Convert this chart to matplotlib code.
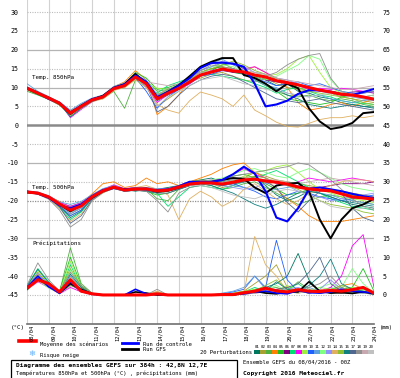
import numpy as np
import matplotlib
matplotlib.use('Agg')
import matplotlib.pyplot as plt
from matplotlib.patches import Rectangle

# ---------------- data ----------------
days = [i * 0.5 for i in range(33)]          # 12-hourly steps over 16 days
date_labels = ['08/04', '09/04', '10/04', '11/04', '12/04', '13/04', '14/04', '15/04',
               '16/04', '17/04', '18/04', '19/04', '20/04', '21/04', '22/04', '23/04', '24/04']
left_ticks = [30, 25, 20, 15, 10, 5, 0, -5, -10, -15, -20, -25, -30, -35, -40, -45]
right_tick_labels = ['75', '70', '65', '60', '55', '50', '45', '40', '35', '30',
                     '25', '20', '15', '10', '5', '0']
PRECIP_BASE = -45   # 0 mm sits on the -45 line

mean850 = [9.8, 8.5, 7.2, 5.8, 3.2, 5.0, 6.7, 7.5, 9.7, 10.5, 12.8,
           11.0, 7.0, 8.5, 9.8, 11.5, 13.3, 14.1, 14.9, 14.4, 14.1, 13.3,
           12.8, 11.8, 11.3, 10.7, 10.0, 9.3, 8.8, 8.2, 8.0, 7.5, 6.9]
ctl850 = [9.9, 8.6, 7.0, 5.9, 3.4, 5.2, 6.9, 7.6, 9.9, 10.8, 13.2,
          11.5, 7.5, 8.8, 10.5, 12.5, 15.2, 16.5, 16.6, 16.3, 15.5, 11.0,
          5.0, 5.5, 6.5, 8.3, 9.3, 9.2, 8.9, 8.2, 8.0, 8.8, 9.6]
gfs850 = [9.7, 8.4, 7.3, 5.7, 3.0, 5.1, 6.8, 7.8, 9.9, 10.9, 13.6,
          11.2, 7.2, 8.9, 10.6, 13.0, 15.5, 16.8, 17.8, 17.8, 13.3, 12.5,
          11.0, 9.0, 11.0, 9.8, 4.5, 1.0, -1.0, -0.5, 0.6, 3.2, 3.5]

mean500 = [-17.7, -18.0, -19.0, -20.9, -22.5, -21.4, -19.0, -17.4, -16.4, -17.2, -16.9,
           -16.9, -17.4, -17.2, -16.4, -15.6, -15.3, -15.3, -15.6, -15.1, -14.5, -14.3,
           -14.8, -15.1, -15.6, -16.4, -16.9, -17.2, -17.4, -18.2, -19.0, -19.3, -19.6]
ctl500 = [-17.6, -18.1, -19.2, -21.2, -22.0, -21.0, -18.8, -17.2, -16.6, -17.0, -16.8,
          -17.0, -17.2, -17.0, -16.2, -15.0, -15.0, -15.0, -14.5, -13.0, -11.0, -12.8,
          -17.5, -24.5, -25.5, -22.0, -17.0, -16.5, -17.0, -17.5, -18.2, -18.8, -19.3]
gfs500 = [-17.8, -18.0, -19.1, -21.0, -22.8, -21.2, -19.2, -17.5, -16.5, -17.0, -17.0,
          -16.8, -17.6, -17.3, -16.5, -15.5, -15.2, -15.0, -14.5, -14.0, -14.2, -16.5,
          -18.0, -16.0, -15.5, -15.3, -17.5, -25.0, -30.0, -25.0, -22.0, -21.0, -19.5]

meanpr = [1.8, 4.0, 3.0, 0.8, 4.0, 1.0, 0.3, 0.0, 0.0, 0.0, 0.0,
          0.0, 0.3, 0.0, 0.0, 0.0, 0.0, 0.0, 0.1, 0.1, 0.6, 1.0,
          1.8, 1.1, 0.8, 1.4, 1.0, 0.9, 1.2, 1.0, 1.4, 2.0, 0.5]
ctlpr = [2.0, 5.0, 2.2, 0.5, 3.5, 1.2, 0.2, 0.0, 0.0, 0.0, 1.5,
         0.3, 0.2, 0.0, 0.0, 0.0, 0.0, 0.0, 0.0, 0.2, 0.3, 0.8,
         1.0, 0.5, 0.3, 1.2, 0.6, 0.5, 0.8, 1.5, 1.0, 0.8, 0.5]
gfspr = [1.6, 4.2, 3.0, 0.6, 3.0, 1.5, 0.3, 0.0, 0.0, 0.0, 0.8,
         0.5, 0.0, 0.0, 0.0, 0.0, 0.0, 0.0, 0.0, 0.0, 0.5, 1.0,
         0.5, 0.3, 0.8, 0.8, 3.5, 1.0, 0.5, 0.6, 0.4, 0.8, 0.3]

# perturbations, 850 hPa
t850_p01 = [9.5, 8.2, 7.0, 5.5, 3.0, 4.8, 6.5, 7.3, 9.5, 10.2, 13.5, 11.5, 6.5, 8.0, 9.5, 11.0, 13.0, 14.5, 16.0, 16.5, 15.0, 13.0, 12.0, 10.5, 11.0, 9.0, 8.5, 7.5, 7.0, 6.0, 5.5, 5.0, 4.8]
t850_p02 = [10.2, 8.9, 7.5, 6.2, 2.5, 4.5, 6.8, 7.8, 10.0, 11.0, 13.0, 10.5, 5.0, 7.0, 9.0, 11.5, 12.5, 13.5, 14.0, 13.0, 12.0, 11.5, 12.5, 11.0, 10.0, 9.5, 9.0, 9.5, 8.5, 7.5, 7.0, 6.5, 6.0]
t850_p03 = [9.0, 8.0, 6.9, 5.3, 3.5, 5.5, 7.0, 7.0, 9.0, 4.5, 12.0, 11.8, 9.0, 9.5, 10.5, 12.5, 14.5, 15.5, 16.5, 15.0, 14.0, 13.0, 11.0, 9.0, 8.0, 7.5, 8.0, 7.0, 6.5, 7.0, 6.5, 5.5, 5.0]
t850_p04 = [9.8, 8.6, 7.3, 6.0, 3.8, 5.3, 7.0, 7.8, 10.2, 11.5, 14.5, 12.0, 2.8, 5.0, 8.0, 12.0, 14.0, 15.0, 15.5, 15.0, 14.5, 15.5, 14.0, 12.0, 10.0, 6.0, 4.0, 4.5, 5.5, 6.0, 5.0, 6.0, 7.0]
t850_p05 = [9.6, 8.4, 7.0, 5.6, 2.8, 4.8, 6.5, 7.4, 9.8, 10.8, 14.0, 12.5, 9.5, 10.0, 11.0, 12.5, 14.0, 15.0, 15.5, 14.0, 13.5, 12.0, 10.5, 9.0, 7.0, 6.5, 6.0, 5.5, 6.0, 7.5, 8.0, 7.5, 8.0]
t850_p06 = [10.0, 8.7, 7.4, 6.1, 3.2, 5.0, 6.9, 7.6, 9.6, 10.4, 12.5, 10.8, 7.5, 8.8, 10.0, 11.8, 13.5, 14.0, 14.5, 14.0, 13.8, 13.0, 12.0, 11.5, 11.0, 10.5, 10.0, 9.5, 9.0, 8.5, 8.8, 9.0, 8.5]
t850_p07 = [9.4, 8.1, 6.8, 5.4, 2.5, 4.6, 6.4, 7.2, 9.4, 10.0, 12.3, 10.0, 8.5, 10.5, 11.5, 12.5, 14.0, 13.5, 13.0, 12.5, 12.0, 11.0, 10.0, 8.5, 9.5, 10.0, 9.0, 8.0, 7.5, 6.5, 6.0, 5.8, 5.5]
t850_p08 = [9.9, 8.8, 7.4, 6.0, 2.0, 4.2, 6.2, 7.4, 9.8, 10.8, 13.0, 10.2, 6.0, 8.2, 9.5, 11.0, 13.0, 14.5, 14.8, 14.5, 15.0, 15.5, 14.0, 12.5, 11.5, 10.5, 9.5, 9.8, 9.5, 9.8, 9.5, 9.0, 8.8]
t850_p09 = [9.7, 8.5, 7.1, 5.8, 3.6, 5.4, 7.0, 7.7, 10.0, 10.6, 12.9, 11.2, 9.8, 9.5, 10.5, 12.0, 13.5, 14.0, 15.0, 14.5, 14.5, 14.0, 13.0, 13.5, 15.0, 17.5, 18.5, 14.0, 10.0, 8.5, 7.5, 7.0, 6.5]
t850_p10 = [9.8, 8.4, 7.2, 5.9, 3.3, 5.1, 6.6, 7.3, 9.5, 10.3, 12.6, 9.0, 4.5, 7.5, 9.5, 11.5, 13.0, 13.5, 14.5, 15.0, 14.0, 12.5, 11.5, 10.5, 11.0, 11.5, 10.5, 11.0, 10.0, 9.0, 8.5, 8.5, 9.0]
t850_p11 = [11.0, 9.0, 7.6, 6.2, 4.0, 5.8, 7.2, 8.0, 10.3, 11.2, 13.3, 12.0, 8.0, 9.0, 10.8, 13.0, 15.0, 16.5, 17.5, 16.0, 14.5, 12.0, 10.5, 10.0, 8.5, 8.0, 7.5, 8.0, 7.0, 6.5, 6.0, 6.5, 7.0]
t850_p12 = [9.5, 8.3, 7.0, 5.7, 3.0, 4.9, 6.6, 7.5, 9.7, 10.6, 13.0, 11.0, 7.5, 9.0, 10.0, 11.5, 13.0, 15.5, 16.0, 15.5, 14.0, 13.0, 12.0, 13.0, 14.5, 16.0, 18.5, 17.5, 12.0, 9.0, 8.0, 7.0, 7.5]
t850_p13 = [9.9, 8.6, 7.3, 5.9, 3.1, 5.0, 6.8, 7.6, 9.8, 10.7, 13.0, 11.3, 7.2, 8.5, 10.0, 12.0, 14.5, 15.5, 17.0, 16.5, 15.5, 14.0, 13.5, 12.5, 12.0, 11.0, 10.0, 9.0, 8.5, 8.0, 7.5, 7.0, 6.5]
t850_p14 = [9.6, 8.3, 7.0, 5.5, 2.6, 4.4, 6.2, 7.0, 9.2, 10.0, 12.0, 10.0, 5.5, 4.0, 3.2, 6.5, 8.8, 8.0, 7.0, 5.0, 8.0, 4.0, 2.5, 0.8, -0.3, -0.5, 0.5, 1.5, 2.0, 2.0, 2.5, 2.0, 2.5]
t850_p15 = [9.7, 8.6, 7.2, 5.8, 3.4, 5.2, 6.9, 7.6, 9.9, 10.6, 13.2, 11.0, 8.0, 9.3, 10.5, 12.2, 14.0, 15.0, 16.0, 17.0, 16.0, 14.5, 13.5, 12.5, 11.5, 10.0, 9.0, 8.5, 8.0, 7.5, 7.0, 6.0, 5.5]
t850_p16 = [9.8, 8.5, 7.1, 5.7, 2.2, 4.5, 6.3, 7.3, 9.6, 10.4, 12.7, 10.5, 6.8, 8.3, 9.7, 11.4, 13.2, 14.0, 14.8, 14.2, 13.6, 12.5, 11.0, 9.5, 8.0, 7.0, 5.5, 5.0, 4.5, 5.0, 5.5, 5.0, 4.5]
t850_p17 = [9.6, 8.4, 7.2, 5.8, 3.0, 4.9, 6.7, 7.5, 9.7, 10.5, 12.8, 11.0, 3.5, 5.0, 8.0, 10.5, 12.0, 13.0, 13.5, 13.0, 11.5, 10.0, 8.5, 7.0, 6.5, 6.0, 6.5, 7.0, 6.0, 5.5, 5.0, 4.5, 4.0]
t850_p18 = [9.9, 8.7, 7.4, 6.0, 3.4, 5.2, 6.9, 7.7, 9.9, 10.7, 13.0, 11.3, 8.2, 9.5, 10.8, 12.5, 14.5, 16.0, 15.5, 15.0, 14.0, 13.5, 13.0, 14.0, 16.0, 17.5, 18.5, 19.0, 12.5, 9.0, 8.0, 8.5, 9.0]
t850_p19 = [9.7, 8.4, 7.1, 5.8, 3.2, 5.0, 6.7, 7.5, 9.8, 10.6, 12.9, 11.5, 11.0, 10.5, 11.0, 12.5, 14.0, 14.5, 15.0, 14.8, 14.5, 14.0, 13.5, 12.5, 12.0, 11.5, 11.0, 10.5, 10.0, 9.5, 9.5, 10.0, 10.5]
t850_p20 = [9.8, 8.5, 7.2, 5.9, 3.5, 5.3, 6.8, 7.6, 9.7, 10.5, 12.5, 10.5, 5.0, 7.5, 9.0, 10.5, 12.0, 12.5, 13.0, 12.0, 11.0, 10.5, 9.5, 9.0, 8.5, 8.0, 7.5, 8.0, 8.5, 8.0, 7.5, 7.5, 8.0]

# perturbations, 500 hPa
t500_p01 = [-17.5, -17.9, -19.2, -21.0, -23.0, -22.0, -19.5, -17.5, -16.0, -17.0, -17.5, -17.0, -17.0, -16.5, -16.0, -15.0, -14.5, -14.0, -15.0, -14.5, -15.0, -13.5, -16.0, -18.5, -20.0, -19.0, -17.5, -18.0, -19.0, -20.0, -21.0, -21.5, -22.0]
t500_p02 = [-17.9, -18.2, -19.3, -21.5, -24.0, -22.5, -19.3, -17.8, -16.8, -17.5, -17.2, -16.5, -18.0, -17.5, -16.0, -15.5, -15.0, -15.5, -16.5, -16.0, -14.0, -12.5, -13.5, -14.5, -15.0, -15.5, -16.0, -16.5, -17.0, -17.5, -18.0, -18.5, -19.0]
t500_p03 = [-17.6, -18.1, -19.0, -20.5, -21.5, -20.5, -18.5, -17.0, -16.2, -17.0, -16.5, -16.8, -19.5, -20.0, -17.0, -16.0, -15.5, -16.0, -17.0, -16.5, -15.5, -15.0, -16.5, -18.0, -19.5, -21.0, -20.0, -19.0, -18.5, -19.0, -20.0, -20.5, -21.0]
t500_p04 = [-17.8, -18.0, -18.8, -20.2, -21.8, -20.8, -18.2, -15.5, -15.0, -16.5, -16.0, -14.0, -15.5, -15.0, -16.0, -15.0, -14.0, -13.0, -11.5, -10.5, -10.0, -12.5, -14.0, -17.0, -19.5, -21.5, -24.0, -25.5, -25.5, -25.5, -25.0, -24.5, -24.0]
t500_p05 = [-17.7, -18.1, -19.1, -21.2, -23.5, -22.0, -19.0, -17.3, -16.5, -17.3, -17.0, -17.5, -18.5, -18.0, -17.0, -16.0, -15.5, -15.0, -14.5, -13.5, -13.0, -14.0, -15.5, -17.0, -18.5, -18.0, -17.0, -16.5, -17.0, -18.0, -18.5, -19.0, -19.5]
t500_p06 = [-17.6, -17.9, -18.9, -20.8, -22.5, -21.5, -19.2, -17.5, -16.5, -17.2, -17.0, -17.0, -17.2, -17.0, -16.5, -15.8, -15.5, -15.5, -15.8, -15.5, -15.0, -14.5, -14.5, -15.0, -15.5, -16.0, -16.5, -16.5, -16.0, -15.5, -15.5, -15.5, -15.0]
t500_p07 = [-17.8, -18.2, -19.4, -21.8, -25.0, -23.0, -19.5, -17.6, -16.6, -17.5, -17.2, -17.5, -18.0, -21.5, -19.0, -16.5, -16.0, -16.5, -17.0, -16.0, -15.0, -14.0, -13.0, -12.0, -13.5, -15.0, -16.5, -18.0, -19.5, -20.5, -21.5, -22.0, -22.5]
t500_p08 = [-17.5, -17.8, -18.8, -20.5, -21.5, -20.6, -18.6, -17.0, -15.8, -16.8, -16.5, -16.5, -17.0, -17.0, -16.0, -15.0, -14.8, -14.5, -14.5, -13.0, -11.5, -13.0, -14.0, -15.5, -16.0, -15.0, -14.0, -14.5, -15.0, -14.5, -14.0, -14.5, -15.0]
t500_p09 = [-17.7, -18.0, -19.0, -20.8, -22.0, -21.0, -18.8, -17.2, -16.3, -17.0, -16.8, -16.8, -17.0, -17.3, -16.5, -15.5, -15.0, -14.8, -15.2, -14.8, -13.5, -12.5, -12.0, -11.0, -10.5, -12.5, -15.0, -17.0, -18.0, -19.0, -19.5, -20.0, -20.5]
t500_p10 = [-17.8, -18.1, -19.2, -21.5, -24.0, -22.5, -19.5, -17.8, -16.8, -17.5, -17.2, -17.0, -17.5, -17.5, -16.8, -16.0, -15.5, -15.5, -16.0, -15.5, -16.5, -17.5, -19.0, -19.5, -18.5, -17.5, -18.0, -19.0, -19.5, -20.0, -19.5, -19.0, -18.5]
t500_p11 = [-17.4, -17.7, -18.7, -20.3, -21.0, -20.2, -18.4, -16.8, -16.0, -16.8, -16.6, -16.5, -16.8, -16.8, -16.0, -15.3, -15.0, -15.0, -15.3, -16.0, -16.5, -17.0, -17.5, -17.0, -16.5, -16.0, -17.0, -18.0, -18.5, -19.5, -20.0, -20.5, -21.0]
t500_p12 = [-17.7, -18.0, -19.0, -21.0, -22.8, -21.5, -19.0, -17.4, -16.4, -17.2, -17.0, -17.0, -17.5, -17.5, -16.5, -15.5, -15.0, -14.5, -14.0, -13.0, -12.0, -11.5, -12.5, -13.5, -14.0, -12.5, -11.5, -12.5, -14.0, -15.5, -16.5, -17.0, -17.5]
t500_p13 = [-17.6, -18.0, -19.1, -21.2, -23.5, -22.0, -19.2, -17.5, -16.5, -17.2, -17.0, -17.2, -17.5, -17.5, -16.5, -15.8, -15.5, -15.5, -16.0, -16.5, -17.0, -16.5, -15.5, -15.0, -16.0, -17.5, -18.5, -19.0, -20.0, -19.5, -19.0, -18.5, -18.0]
t500_p14 = [-17.8, -18.3, -19.5, -22.0, -25.5, -23.5, -20.0, -18.0, -16.5, -17.0, -16.5, -16.0, -17.0, -18.5, -25.0, -19.5, -17.5, -19.0, -21.5, -20.0, -17.0, -15.5, -17.5, -19.5, -21.0, -20.0, -18.0, -17.0, -16.0, -15.0, -14.5, -14.5, -15.0]
t500_p15 = [-17.7, -18.1, -19.0, -20.9, -22.2, -21.2, -18.9, -17.3, -16.4, -17.1, -16.9, -17.0, -17.5, -17.2, -16.0, -15.0, -14.5, -15.0, -15.5, -15.0, -14.0, -13.5, -14.0, -15.0, -16.0, -17.0, -18.5, -20.0, -21.0, -21.5, -22.0, -23.0, -23.5]
t500_p16 = [-17.7, -18.0, -19.1, -21.4, -24.5, -22.8, -19.3, -17.6, -16.6, -17.3, -17.1, -17.3, -17.8, -17.5, -16.8, -16.0, -15.5, -16.0, -17.0, -18.0, -19.5, -21.0, -22.0, -21.0, -19.5, -18.0, -17.5, -18.0, -19.0, -20.0, -20.5, -21.0, -21.5]
t500_p17 = [-17.8, -18.2, -19.3, -21.6, -26.0, -24.0, -19.8, -17.8, -16.6, -17.5, -17.3, -17.5, -18.0, -18.0, -17.0, -16.0, -15.5, -15.5, -16.0, -15.5, -15.0, -14.5, -15.0, -16.5, -20.5, -23.0, -20.0, -17.5, -17.0, -18.0, -22.0, -24.5, -25.5]
t500_p18 = [-17.9, -18.3, -19.6, -22.5, -27.0, -25.0, -20.0, -17.8, -16.8, -17.4, -17.2, -17.5, -20.0, -23.0, -18.0, -16.5, -16.0, -15.5, -15.0, -13.5, -13.0, -12.5, -12.0, -11.5, -11.0, -10.0, -10.5, -12.5, -14.5, -17.0, -19.5, -21.5, -22.5]
t500_p19 = [-17.6, -17.9, -19.0, -20.7, -22.0, -21.0, -18.7, -17.1, -16.2, -17.0, -16.8, -16.7, -17.0, -16.8, -16.2, -15.2, -15.0, -15.0, -15.2, -14.5, -14.0, -14.0, -14.5, -14.5, -15.0, -15.5, -15.0, -14.5, -14.0, -14.5, -15.0, -15.5, -16.0]
t500_p20 = [-17.7, -18.0, -19.0, -21.0, -23.0, -21.8, -19.2, -17.5, -16.5, -17.2, -17.0, -17.0, -17.3, -17.0, -16.5, -16.0, -16.0, -16.5, -17.5, -18.5, -19.0, -19.5, -18.5, -17.5, -17.0, -17.5, -18.5, -20.0, -21.5, -22.0, -22.5, -22.0, -21.5]

# perturbations, precipitation (mm)
pr_p01 = [1.5, 5.0, 2.5, 0.5, 4.0, 1.2, 0.2, 0.0, 0.0, 0.0, 0.0, 0.0, 0.3, 0.0, 0.0, 0.0, 0.0, 0.0, 0.2, 0.3, 0.5, 1.0, 2.0, 3.0, 5.0, 11.0, 4.0, 1.0, 0.5, 0.8, 1.5, 1.0, 0.3]
pr_p02 = [2.0, 6.0, 3.0, 0.3, 2.5, 1.5, 0.2, 0.0, 0.0, 0.0, 0.0, 0.0, 0.5, 0.0, 0.0, 0.0, 0.0, 0.0, 0.0, 0.5, 1.0, 3.0, 5.0, 8.0, 2.0, 1.0, 0.5, 1.0, 0.8, 0.5, 1.0, 0.5, 0.2]
pr_p03 = [1.2, 4.0, 2.0, 0.8, 12.5, 3.0, 0.5, 0.0, 0.0, 0.0, 0.0, 0.0, 0.4, 0.0, 0.0, 0.0, 0.0, 0.0, 0.0, 0.0, 0.3, 0.8, 1.5, 2.0, 1.0, 3.5, 1.5, 0.5, 1.0, 2.0, 1.0, 0.8, 0.3]
pr_p04 = [2.2, 5.5, 2.8, 0.4, 4.5, 2.0, 0.3, 0.0, 0.0, 0.0, 0.0, 0.0, 0.8, 0.0, 0.0, 0.0, 0.0, 0.0, 0.0, 0.0, 0.5, 1.0, 0.8, 1.5, 2.0, 1.0, 0.5, 1.5, 1.0, 2.5, 3.0, 1.5, 0.5]
pr_p05 = [1.8, 4.5, 3.2, 1.0, 10.0, 2.5, 0.3, 0.0, 0.0, 0.0, 0.0, 0.0, 0.2, 0.0, 0.0, 0.0, 0.0, 0.0, 0.0, 0.2, 0.5, 1.5, 2.0, 1.0, 0.5, 1.5, 1.0, 0.5, 1.0, 1.5, 2.0, 7.0, 1.0]
pr_p06 = [1.6, 4.8, 2.2, 0.6, 3.0, 1.0, 0.2, 0.0, 0.0, 0.0, 0.0, 0.0, 0.0, 0.0, 0.0, 0.0, 0.0, 0.0, 0.0, 0.0, 0.2, 0.5, 0.8, 0.5, 0.5, 0.8, 1.0, 0.5, 0.8, 0.5, 1.0, 0.8, 0.3]
pr_p07 = [2.5, 7.0, 3.5, 0.5, 8.0, 2.0, 0.4, 0.0, 0.0, 0.0, 0.0, 0.0, 0.5, 0.0, 0.0, 0.0, 0.0, 0.0, 0.0, 0.3, 0.8, 2.0, 1.0, 0.5, 1.5, 3.0, 1.0, 0.5, 2.0, 1.0, 0.5, 1.5, 0.5]
pr_p08 = [1.4, 3.5, 2.0, 0.3, 2.0, 0.8, 0.1, 0.0, 0.0, 0.0, 0.0, 0.0, 0.2, 0.0, 0.0, 0.0, 0.0, 0.0, 0.0, 0.0, 0.3, 0.8, 1.0, 1.5, 0.8, 1.0, 0.5, 1.0, 2.0, 5.0, 13.0, 16.0, 2.0]
pr_p09 = [2.0, 6.5, 3.0, 0.7, 9.0, 2.2, 0.3, 0.0, 0.0, 0.0, 0.0, 0.0, 0.6, 0.0, 0.0, 0.0, 0.0, 0.0, 0.0, 0.5, 1.0, 1.5, 0.5, 1.0, 2.5, 1.5, 1.0, 2.0, 1.5, 1.0, 2.0, 1.5, 0.5]
pr_p10 = [1.7, 4.2, 2.6, 0.5, 3.5, 1.5, 0.2, 0.0, 0.0, 0.0, 0.0, 0.0, 0.3, 0.0, 0.0, 0.0, 0.0, 0.0, 0.3, 0.8, 1.5, 5.0, 2.0, 14.5, 4.0, 1.0, 0.5, 1.0, 0.5, 1.0, 0.8, 0.5, 0.2]
pr_p11 = [1.9, 5.2, 2.4, 0.4, 5.0, 1.8, 0.2, 0.0, 0.0, 0.0, 0.0, 0.0, 0.4, 0.0, 0.0, 0.0, 0.0, 0.0, 0.5, 1.0, 2.0, 5.0, 1.5, 1.0, 0.8, 1.5, 2.0, 1.0, 1.5, 0.8, 0.5, 1.0, 0.3]
pr_p12 = [1.3, 3.8, 1.8, 0.5, 6.5, 1.5, 0.2, 0.0, 0.0, 0.0, 0.0, 0.0, 0.3, 0.0, 0.0, 0.0, 0.0, 0.0, 0.0, 0.0, 0.2, 0.5, 1.5, 2.5, 1.0, 0.5, 1.0, 2.0, 3.0, 2.0, 7.0, 3.0, 0.5]
pr_p13 = [2.1, 5.8, 2.9, 0.6, 4.2, 1.6, 0.3, 0.0, 0.0, 0.0, 0.0, 0.0, 0.2, 0.0, 0.0, 0.0, 0.0, 0.0, 0.0, 0.2, 0.5, 1.0, 0.8, 1.0, 1.5, 2.0, 1.0, 1.5, 4.0, 1.5, 1.0, 0.8, 0.3]
pr_p14 = [1.5, 4.6, 2.3, 0.4, 3.2, 1.1, 0.2, 0.0, 0.0, 0.0, 0.0, 0.0, 1.0, 0.0, 0.0, 0.0, 0.0, 0.0, 0.0, 0.0, 0.5, 15.5, 8.0, 5.0, 1.0, 0.5, 1.0, 0.5, 0.8, 1.0, 0.5, 1.0, 0.3]
pr_p15 = [1.8, 5.4, 2.7, 0.7, 7.0, 2.2, 0.3, 0.0, 0.0, 0.0, 0.0, 0.0, 0.4, 0.0, 0.0, 0.0, 0.0, 0.0, 0.0, 0.3, 0.6, 1.2, 2.5, 4.0, 1.5, 1.0, 0.5, 1.0, 1.5, 2.5, 1.5, 1.0, 0.5]
pr_p16 = [2.3, 6.8, 3.3, 0.5, 5.5, 2.0, 0.3, 0.0, 0.0, 0.0, 0.0, 0.0, 0.3, 0.0, 0.0, 0.0, 0.0, 0.0, 0.0, 0.2, 0.4, 0.8, 1.0, 3.5, 1.5, 1.0, 2.5, 5.0, 9.5, 3.0, 1.5, 1.0, 0.3]
pr_p17 = [1.6, 4.4, 2.1, 0.3, 2.8, 0.9, 0.2, 0.0, 0.0, 0.0, 0.0, 0.0, 0.2, 0.0, 0.0, 0.0, 0.0, 0.0, 0.0, 0.0, 0.3, 0.6, 1.0, 1.5, 2.0, 3.0, 6.0, 10.0, 3.0, 1.0, 0.5, 0.8, 0.3]
pr_p18 = [2.6, 8.5, 4.0, 1.0, 6.0, 2.5, 0.5, 0.0, 0.0, 0.0, 0.0, 0.0, 1.5, 0.0, 0.0, 0.0, 0.0, 0.0, 0.0, 0.0, 0.3, 0.8, 1.0, 0.5, 1.0, 1.5, 2.0, 3.0, 5.0, 2.0, 1.0, 0.5, 0.2]
pr_p19 = [1.9, 5.1, 2.5, 0.6, 3.8, 1.4, 0.2, 0.0, 0.0, 0.0, 0.0, 0.0, 0.3, 0.0, 0.0, 0.0, 0.0, 0.0, 0.0, 0.0, 0.2, 0.5, 0.8, 1.0, 0.8, 0.5, 1.0, 0.8, 1.0, 1.5, 1.0, 0.8, 0.3]
pr_p20 = [1.7, 4.9, 2.4, 0.5, 3.3, 1.3, 0.2, 0.0, 0.0, 0.0, 0.0, 0.0, 0.6, 0.0, 0.0, 0.0, 0.0, 0.0, 0.0, 0.3, 0.5, 1.0, 1.2, 0.8, 1.0, 1.2, 0.8, 1.0, 1.2, 0.8, 1.0, 0.5, 0.2]

pert_numbers = ['01', '02', '03', '04', '05', '06', '07', '08', '09', '10',
                '11', '12', '13', '14', '15', '16', '17', '18', '19', '20']
pert_colors = ['#007860', '#a8a030', '#50b040', '#ff8000', '#20c020', '#800080', '#00e070',
               '#ff00ff', '#a0f040', '#2060ff', '#60a0e0', '#80ff80', '#9090ff', '#e0b060',
               '#90c030', '#108080', '#506890', '#909090', '#c8a8b0', '#c0c0c0']

t850_members = [t850_p01, t850_p02, t850_p03, t850_p04, t850_p05, t850_p06, t850_p07, t850_p08, t850_p09, t850_p10,
                t850_p11, t850_p12, t850_p13, t850_p14, t850_p15, t850_p16, t850_p17, t850_p18, t850_p19, t850_p20]
t500_members = [t500_p01, t500_p02, t500_p03, t500_p04, t500_p05, t500_p06, t500_p07, t500_p08, t500_p09, t500_p10,
                t500_p11, t500_p12, t500_p13, t500_p14, t500_p15, t500_p16, t500_p17, t500_p18, t500_p19, t500_p20]
pr_members = [pr_p01, pr_p02, pr_p03, pr_p04, pr_p05, pr_p06, pr_p07, pr_p08, pr_p09, pr_p10,
              pr_p11, pr_p12, pr_p13, pr_p14, pr_p15, pr_p16, pr_p17, pr_p18, pr_p19, pr_p20]

# ---------------- figure ----------------
W, H = 400, 378
MONO = 'DejaVu Sans Mono'
fig = plt.figure(figsize=(W / 100, H / 100), dpi=100)
fig.patch.set_facecolor('white')


def fx(x):
    return x / W


def fy(y):
    return 1 - y / H


ax = fig.add_axes([fx(27), fy(324), 347 / W, 324 / H])
ax.set_xlim(0, 16)
ax.set_ylim(-52.7, 33.2)
for s in ax.spines.values():
    s.set_visible(False)
ax.spines['bottom'].set_visible(True)
ax.spines['bottom'].set_color('#707070')
ax.spines['bottom'].set_linewidth(1.2)

# grid
for d in range(len(date_labels)):
    ax.axvline(d, color='#d2d2d2', lw=0.8, zorder=0)
for v in left_ticks:
    if v == 0:
        ax.axhline(v, color='#8a8a8a', lw=1.8, zorder=0.5)
    elif v in (20, 10, -10, -30, -40):
        ax.axhline(v, color='#b4b4b4', lw=0.9, zorder=0.5)
    elif v == -20:
        ax.axhline(v, color='#909090', lw=0.9, ls=(0, (1, 1)), zorder=0.5)
    else:
        ax.axhline(v, color='#bdbdbd', lw=0.8, ls=(0, (1, 1.2)), zorder=0.5)

ax.set_xticks([])
ax.set_yticks(left_ticks)
ax.set_yticklabels([str(v) for v in left_ticks], fontsize=4.8, family=MONO)
ax.tick_params(axis='y', length=0, pad=6)

ax2 = ax.twinx()
ax2.set_ylim(ax.get_ylim())
for s in ax2.spines.values():
    s.set_visible(False)
ax2.set_yticks(left_ticks)
ax2.set_yticklabels(right_tick_labels, fontsize=4.8, family=MONO)
ax2.tick_params(axis='y', length=0, pad=6)

x = np.array(days)
for k in range(len(pert_colors)):
    c = pert_colors[k]
    ax.plot(x, t850_members[k], color=c, lw=0.6, zorder=2)
    ax.plot(x, t500_members[k], color=c, lw=0.6, zorder=2)
    ax.plot(x, np.array(pr_members[k]) + PRECIP_BASE, color=c, lw=0.6, zorder=2)

for series in (gfs850, gfs500):
    ax.plot(x, series, color='black', lw=1.4, zorder=4)
ax.plot(x, np.array(gfspr) + PRECIP_BASE, color='black', lw=1.2, zorder=4)
for series in (ctl850, ctl500):
    ax.plot(x, series, color='#0000ff', lw=1.5, zorder=5)
ax.plot(x, np.array(ctlpr) + PRECIP_BASE, color='#0000ff', lw=1.2, zorder=5)
for series in (mean850, mean500):
    ax.plot(x, series, color='#ff0000', lw=2.2, zorder=6)
ax.plot(x, np.array(meanpr) + PRECIP_BASE, color='#ff0000', lw=2.2, zorder=6)

# section labels
fig.text(fx(32), fy(78), 'Temp. 850hPa', fontsize=4.2, family=MONO, va='center', ha='left')
fig.text(fx(32), fy(188), 'Temp. 500hPa', fontsize=4.2, family=MONO, va='center', ha='left')
fig.text(fx(32), fy(243), 'Précipitations', fontsize=4.2, family=MONO, va='center', ha='left')

# date labels
for i, lab in enumerate(date_labels):
    px = 32 + 343 * i / 16
    fig.text(fx(px), fy(325), lab, rotation=90, fontsize=3.9, family=MONO,
             ha='center', va='top')
fig.text(fx(11), fy(328), '(°C)', fontsize=4.2, family=MONO, va='center', ha='left')
fig.text(fx(380), fy(328), '(mm)', fontsize=4.0, family=MONO, va='center', ha='left')

# legend
fig.add_artist(plt.Line2D([fx(19), fx(36)], [fy(341), fy(341)], color='#ff0000', lw=2.6))
fig.text(fx(40), fy(344.5), 'Moyenne des scénarios', fontsize=4.0, family=MONO, va='center', ha='left')
fig.add_artist(plt.Line2D([fx(122), fx(138)], [fy(343), fy(343)], color='#0000ff', lw=2.0))
fig.text(fx(143), fy(344.3), 'Run de controle', fontsize=4.0, family=MONO, va='center', ha='left')
fig.add_artist(plt.Line2D([fx(122), fx(138)], [fy(348.5), fy(348.5)], color='black', lw=2.0))
fig.text(fx(143), fy(349.5), 'Run GFS', fontsize=4.0, family=MONO, va='center', ha='left')
fig.text(fx(32), fy(354), '❄', fontsize=6, family='DejaVu Sans', color='#60b0ff', va='center', ha='center')
fig.text(fx(40), fy(355), 'Risque neige', fontsize=4.0, family=MONO, va='center', ha='left')
fig.text(fx(200), fy(352.5), '20 Perturbations', fontsize=4.0, family=MONO, va='center', ha='left')
for k, (num, c) in enumerate(zip(pert_numbers, pert_colors)):
    bx = 254 + 6 * k
    fig.text(fx(bx + 3), fy(347.5), num, fontsize=3.0, family=MONO, va='center', ha='center')
    fig.add_artist(Rectangle((fx(bx), fy(354)), 6 / W, 4 / H, facecolor=c, edgecolor='none'))

# title box
fig.add_artist(Rectangle((fx(11), fy(380)), 226 / W, 20 / H, facecolor='white',
                         edgecolor='black', lw=0.9))
fig.text(fx(16), fy(366), 'Diagramme des ensembles GEFS sur 384h : 42,8N 12,7E',
         fontsize=4.5, family=MONO, weight='bold', va='center', ha='left')
fig.text(fx(16), fy(373.5), 'Températures 850hPa et 500hPa (°C) , précipitations (mm)',
         fontsize=4.0, family=MONO, va='center', ha='left')
fig.text(fx(243), fy(362), 'Ensemble GEFS du 08/04/2016 - 00Z', fontsize=4.0, family=MONO,
         va='center', ha='left')
fig.text(fx(243), fy(373), 'Copyright 2016 Meteociel.fr', fontsize=4.5, family=MONO,
         weight='bold', va='center', ha='left')

fig.savefig('out.png', dpi=100, facecolor='white')
